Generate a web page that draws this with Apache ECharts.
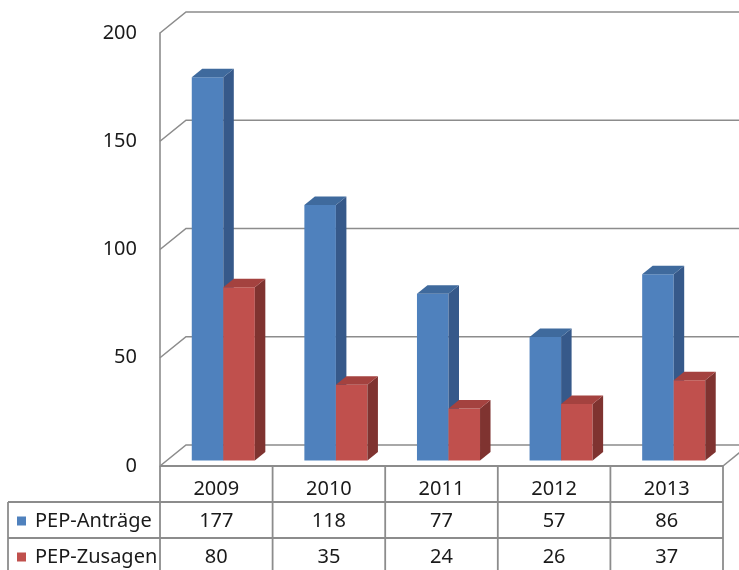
<!DOCTYPE html>
<html>
<head>
<meta charset="utf-8">
<script src="https://cdn.jsdelivr.net/npm/echarts@6/dist/echarts.min.js"></script>
<style>
  html, body { margin: 0; padding: 0; background: #fff; }
  #chart { width: 739px; height: 570px; }
</style>
</head>
<body>
<div id="chart"></div>
<script>
// Jahre und Werte
const years = ['2009', '2010', '2011', '2012', '2013'];
const antraege = [177, 118, 77, 57, 86];
const zusagen = [80, 35, 24, 26, 37];
const seriesNames = ['PEP-Anträge', 'PEP-Zusagen'];
const yTicks = [0, 50, 100, 150, 200];

const FONT_FAMILY = '"Noto Sans", "DejaVu Sans", sans-serif';
const TEXT_COLOR = '#1a1a1a';
const LINE_COLOR = '#8c8c8c';

// pseudo-3D geometry (pixel vectors)
const WALL = [26, -21];        // front plane -> back wall
const BAR_OFF = [7, -5.6];     // bars sit slightly behind the front plane
const BAR_DEPTH = [10.5, -8.5];
const BAR_FRAC = 0.28;         // bar width as share of category band

// table rows below the floor
const ROW_H = 36;
const LEGEND_LEFT = 8;

const palettes = [
  { front: '#4F81BD', side: '#36598A', top: '#3F6A9D' },
  { front: '#C0504D', side: '#7F3330', top: '#A4423F' }
];

function barRender(k) {
  return function (params, api) {
    const i = api.value(0);
    const v = api.value(1);
    const top = api.coord([i, v]);
    const base = api.coord([i, 0]);
    const bw = api.size([1, 0])[0] * BAR_FRAC;
    const x0 = top[0] + BAR_OFF[0] - bw + k * bw;
    const x1 = x0 + bw;
    const yT = top[1] + BAR_OFF[1];
    const yB = base[1] + BAR_OFF[1];
    const dx = BAR_DEPTH[0], dy = BAR_DEPTH[1];
    const p = palettes[k];
    return {
      type: 'group',
      children: [
        { type: 'polygon', shape: { points: [[x0, yB], [x0, yT], [x1, yT], [x1, yB]] }, style: { fill: p.front } },
        { type: 'polygon', shape: { points: [[x1, yB], [x1, yT], [x1 + dx, yT + dy], [x1 + dx, yB + dy]] }, style: { fill: p.side } },
        { type: 'polygon', shape: { points: [[x0, yT], [x0 + dx, yT + dy], [x1 + dx, yT + dy], [x1, yT]] }, style: { fill: p.top } }
      ]
    };
  };
}

// side wall, back wall and floor lines for each tick
function wallRender(params, api) {
  const v = api.value(1);
  const cs = params.coordSys;
  const y = api.coord([0, v])[1];
  const xl = cs.x, xr = cs.x + cs.width;
  const st = { stroke: LINE_COLOR, lineWidth: 1.6, fill: null };
  const children = [
    { type: 'polyline', shape: { points: [[xl, y], [xl + WALL[0], y + WALL[1]], [xr + WALL[0], y + WALL[1]]] }, style: st }
  ];
  if (v === 0) {
    children.push({ type: 'line', shape: { x1: xr, y1: y, x2: xr + WALL[0], y2: y + WALL[1] }, style: st });
  }
  return { type: 'group', children: children };
}

function textEl(str, x, y, align) {
  return {
    type: 'text',
    style: {
      text: str, x: x, y: y,
      align: align || 'center', verticalAlign: 'middle',
      textAlign: align || 'center', textVerticalAlign: 'middle',
      font: '20px ' + FONT_FAMILY, fill: TEXT_COLOR
    }
  };
}

// data table under the plot, with the series keys in its first column
function tableRender(params, api) {
  const i = api.value(0);
  const cs = params.coordSys;
  const xl = cs.x, xr = cs.x + cs.width;
  const y0 = cs.y + cs.height;
  const y1 = y0 + ROW_H, y2 = y1 + ROW_H, y3 = y2 + ROW_H + 10;
  const cx = api.coord([i, 0])[0];
  const half = api.size([1, 0])[0] / 2;
  const st = { stroke: LINE_COLOR, lineWidth: 1.8, fill: null };
  const children = [
    { type: 'line', shape: { x1: cx + half, y1: y0, x2: cx + half, y2: y3 }, style: st },
    textEl(years[i], cx, y0 + ROW_H / 2 + 5),
    textEl(String(api.value(1)), cx, y1 + ROW_H / 2 + 1),
    textEl(String(api.value(2)), cx, y2 + ROW_H / 2 + 1)
  ];
  if (i === 0) {
    children.push(
      { type: 'line', shape: { x1: xl, y1: y0, x2: xr, y2: y0 }, style: st },
      { type: 'line', shape: { x1: LEGEND_LEFT, y1: y1, x2: xr, y2: y1 }, style: st },
      { type: 'line', shape: { x1: LEGEND_LEFT, y1: y2, x2: xr, y2: y2 }, style: st },
      { type: 'line', shape: { x1: xl, y1: y0, x2: xl, y2: y3 }, style: st },
      { type: 'line', shape: { x1: LEGEND_LEFT, y1: y1, x2: LEGEND_LEFT, y2: y3 }, style: st }
    );
    [y1, y2].forEach(function (ry, k) {
      const cy = ry + ROW_H / 2 + 1;
      children.push(
        { type: 'rect', shape: { x: LEGEND_LEFT + 9, y: cy - 4.5, width: 9, height: 9 }, style: { fill: palettes[k].front } },
        textEl(seriesNames[k], LEGEND_LEFT + 27, cy, 'left')
      );
    });
  }
  return { type: 'group', children: children };
}

const chart = echarts.init(document.getElementById('chart'), null, { renderer: 'canvas' });

chart.setOption({
  animation: false,
  backgroundColor: '#ffffff',
  grid: { left: 160, right: 16, top: 33, bottom: 104 },
  xAxis: {
    type: 'category',
    data: years,
    axisLine: { show: false },
    axisTick: { show: false },
    axisLabel: { show: false },
    splitLine: { show: false }
  },
  yAxis: {
    type: 'value',
    min: 0,
    max: 200,
    interval: 50,
    axisLine: { show: true, lineStyle: { color: LINE_COLOR, width: 1.6 } },
    axisTick: { show: false },
    splitLine: { show: false },
    axisLabel: { margin: 23, fontSize: 20, color: TEXT_COLOR, fontFamily: FONT_FAMILY }
  },
  series: [
    {
      type: 'custom',
      name: 'walls',
      z: 1,
      silent: true,
      renderItem: wallRender,
      encode: { x: 0, y: 1 },
      data: yTicks.map(v => [0, v])
    },
    {
      type: 'custom',
      name: seriesNames[0],
      z: 2,
      itemStyle: { color: palettes[0].front },
      renderItem: barRender(0),
      encode: { x: 0, y: 1 },
      data: antraege.map((v, i) => [i, v])
    },
    {
      type: 'custom',
      name: seriesNames[1],
      z: 3,
      itemStyle: { color: palettes[1].front },
      renderItem: barRender(1),
      encode: { x: 0, y: 1 },
      data: zusagen.map((v, i) => [i, v])
    },
    {
      type: 'custom',
      name: 'table',
      z: 4,
      silent: true,
      renderItem: tableRender,
      encode: { x: 0, y: 1 },
      data: years.map((y, i) => [i, antraege[i], zusagen[i]])
    }
  ]
});
</script>
</body>
</html>
